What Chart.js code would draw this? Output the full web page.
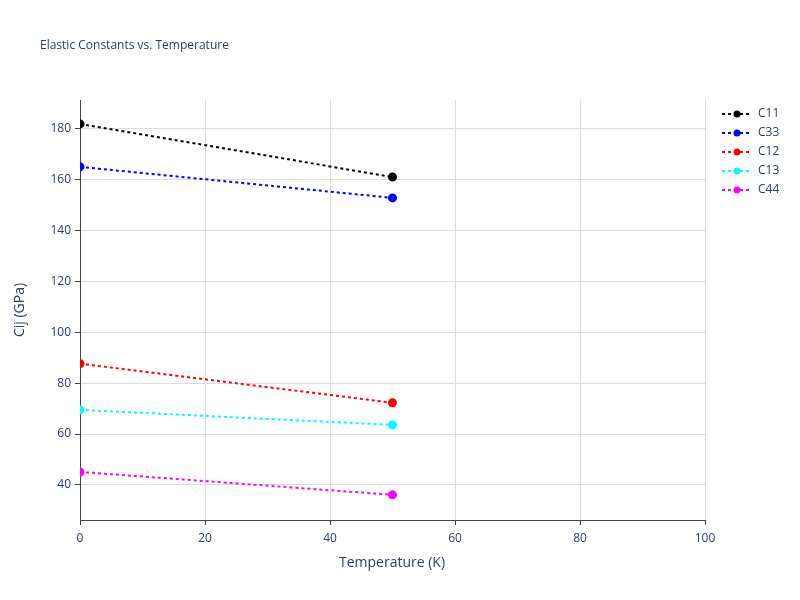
<!DOCTYPE html>
<html>
<head>
<meta charset="utf-8">
<script src="https://cdn.jsdelivr.net/npm/chart.js@4/dist/chart.umd.min.js"></script>
<style>
  body { margin: 0; background: #fff; }
  #wrap { width: 800px; height: 600px; }
</style>
</head>
<body>
<div id="wrap"><canvas id="chart" width="800" height="600"></canvas></div>
<script>
const temps = [0, 50];
const names = ['C11', 'C33', 'C12', 'C13', 'C44'];
const colors = ['#000000', '#0000ff', '#ff0000', '#00ffff', '#ff00ff'];
const c11 = [182.0, 161.1];
const c33 = [165.1, 152.9];
const c12 = [87.7, 72.3];
const c13 = [69.5, 63.6];
const c44 = [45.1, 36.1];
const series = [c11, c33, c12, c13, c44];

const font = 'Open Sans, Verdana, sans-serif';
const textColor = '#2a3f5f';

const datasets = series.map((vals, i) => ({
    label: names[i],
    data: vals.map((v, j) => ({ x: temps[j], y: v })),
    borderColor: colors[i],
    backgroundColor: colors[i],
    borderWidth: 2,
    borderDash: [3, 3],
    pointRadius: 3.5,
    pointHoverRadius: 3.5
}));

// plotly-like legend and titles
const extras = {
    id: 'extras',
    afterDraw(chart) {
        const ctx = chart.ctx;
        ctx.save();
        ctx.fillStyle = textColor;
        ctx.font = '12px ' + font;
        ctx.textBaseline = 'middle';
        ctx.fillText('Elastic Constants vs. Temperature', 40, 46);

        chart.data.datasets.forEach((ds, i) => {
            const y = 114 + i * 19;
            ctx.strokeStyle = ds.borderColor;
            ctx.lineWidth = 2;
            ctx.setLineDash([3, 3]);
            ctx.beginPath();
            ctx.moveTo(722, y);
            ctx.lineTo(752, y);
            ctx.stroke();
            ctx.setLineDash([]);
            ctx.fillStyle = ds.borderColor;
            ctx.beginPath();
            ctx.arc(737, y, 3.5, 0, Math.PI * 2);
            ctx.fill();
            ctx.fillStyle = textColor;
            ctx.fillText(ds.label, 758, y);
        });

        ctx.font = '14px ' + font;
        ctx.textAlign = 'center';
        ctx.fillText('Temperature (K)', 392, 563);
        ctx.translate(20, 310);
        ctx.rotate(-Math.PI / 2);
        ctx.fillText('Cij (GPa)', 0, 0);
        ctx.restore();
    }
};

new Chart(document.getElementById('chart'), {
    type: 'line',
    data: { datasets: datasets },
    options: {
        responsive: false,
        animation: false,
        layout: { padding: { left: 0, right: 95, top: 100, bottom: 0 } },
        plugins: { legend: { display: false }, title: { display: false }, tooltip: { enabled: false } },
        scales: {
            x: {
                type: 'linear',
                min: 0,
                max: 100,
                afterFit: (s) => { s.height = 80; },
                ticks: { stepSize: 20, color: textColor, font: { family: font, size: 12 }, padding: 6 },
                grid: {
                    color: (c) => c.tick && c.tick.value === 0 ? '#444' : '#dddddd',
                    lineWidth: 1,
                    tickLength: 5,
                    tickColor: '#444'
                },
                border: { display: true, color: '#444' }
            },
            y: {
                min: 26.2,
                max: 191.4,
                afterFit: (s) => { s.width = 80; },
                afterBuildTicks: (s) => {
                    s.ticks = [40, 60, 80, 100, 120, 140, 160, 180].map(v => ({ value: v }));
                },
                ticks: { color: textColor, font: { family: font, size: 12 }, padding: 4 },
                grid: { color: '#dddddd', lineWidth: 1, tickLength: 5, tickColor: '#444' },
                border: { display: true, color: '#444' }
            }
        }
    },
    plugins: [extras]
});
</script>
</body>
</html>
